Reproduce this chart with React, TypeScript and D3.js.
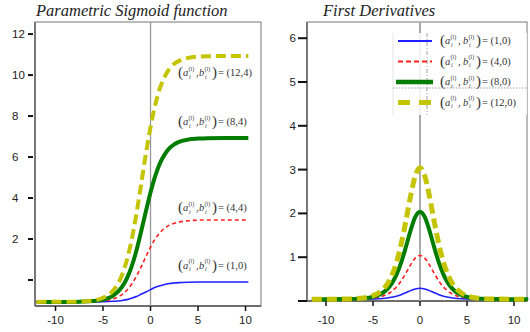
import React from 'react'
import { scaleLinear, line, curveMonotoneX } from 'd3'

// left panel: sigmoid curves
const xLeft = [-12, -8, -6, -5, -4, -3, -2.5, -2, -1.5, -1, -0.5, 0, 0.5, 1, 1.5, 2, 2.5, 3, 4, 5, 6, 8, 10.3]
const blueLeft = [-1.07, -1.07, -1.07, -1.06, -1.04, -1.0, -0.96, -0.89, -0.81, -0.7, -0.59, -0.47, -0.36, -0.28, -0.22, -0.17, -0.15, -0.13, -0.11, -0.1, -0.1, -0.1, -0.1]
const redLeft = [-1.07, -1.07, -1.05, -1.02, -0.93, -0.71, -0.5, -0.21, 0.17, 0.63, 1.13, 1.6, 2.01, 2.31, 2.53, 2.68, 2.77, 2.83, 2.89, 2.92, 2.93, 2.93, 2.93]
const greenLeft = [-1.07, -1.07, -1.03, -0.96, -0.79, -0.34, 0.07, 0.64, 1.41, 2.34, 3.33, 4.27, 5.08, 5.7, 6.13, 6.43, 6.62, 6.74, 6.86, 6.9, 6.92, 6.93, 6.93]
const yellowLeft = [-1.07, -1.06, -1.0, -0.87, -0.55, 0.24, 0.95, 1.93, 3.18, 4.63, 6.12, 7.46, 8.55, 9.37, 9.93, 10.31, 10.55, 10.69, 10.84, 10.9, 10.92, 10.93, 10.93]

// right panel: first derivatives
const xRight = [-11.5, -8, -6, -5, -4, -3.5, -3, -2.5, -2, -1.5, -1, -0.5, 0, 0.5, 1, 1.5, 2, 2.5, 3, 3.5, 4, 5, 6, 8, 11.5]
const blueRight = [0.04, 0.04, 0.042, 0.047, 0.058, 0.069, 0.085, 0.11, 0.145, 0.189, 0.237, 0.275, 0.29, 0.275, 0.237, 0.189, 0.145, 0.11, 0.085, 0.069, 0.058, 0.047, 0.042, 0.04, 0.04]
const redRight = [0.04, 0.04, 0.05, 0.067, 0.111, 0.154, 0.221, 0.32, 0.46, 0.636, 0.826, 0.98, 1.04, 0.98, 0.826, 0.636, 0.46, 0.32, 0.221, 0.154, 0.111, 0.067, 0.05, 0.04, 0.04]
const greenRight = [0.04, 0.043, 0.06, 0.093, 0.182, 0.268, 0.402, 0.601, 0.88, 1.232, 1.613, 1.92, 2.04, 1.92, 1.613, 1.232, 0.88, 0.601, 0.402, 0.268, 0.182, 0.093, 0.06, 0.043, 0.04]
const yellowRight = [0.04, 0.044, 0.07, 0.12, 0.252, 0.382, 0.582, 0.881, 1.3, 1.828, 2.399, 2.86, 3.04, 2.86, 2.399, 1.828, 1.3, 0.881, 0.582, 0.382, 0.252, 0.12, 0.07, 0.044, 0.04]

const xTicks = [-10, -5, 0, 5, 10]
const yTicksLeft = [0, 2, 4, 6, 8, 10, 12]
const yTicksRight = [0, 1, 2, 3, 4, 5, 6]
const leftLabels = ['(12,4)', '(8,4)', '(4,4)', '(1,0)']
const leftLabelY = [10.1, 7.7, 3.5, 0.7]
const rightLabels = ['(1,0)', '(4,0)', '(8,0)', '(12,0)']

const styles = [
    { color: '#1f1fff', w: 1.6, dash: null, wL: 2 },
    { color: '#ff1f1f', w: 1.6, dash: '4,3', wL: 2 },
    { color: '#007d00', w: 4, dash: null, wL: 4.5 },
    { color: '#c4c400', w: 4, dash: '10,5', wL: 5 },
]

const mathFont = '"Liberation Serif", serif'

const Ab = ({ x, y, value, gap = 0 }) => (
    <g transform={`translate(${x},${y})`} fontFamily={mathFont} fill='#333'>
        <text x={0} y={4} fontSize={15}>(</text>
        <text x={5} y={3} fontSize={10.5} fontStyle='italic'>a</text>
        <text x={10.5} y={-2.5} fontSize={6}>(l)</text>
        <text x={11} y={5.5} fontSize={6} fontStyle='italic'>i</text>
        <text x={18} y={3} fontSize={10.5}>,</text>
        <text x={21 + gap} y={3} fontSize={10.5} fontStyle='italic'>b</text>
        <text x={26.5 + gap} y={-2.5} fontSize={6}>(l)</text>
        <text x={27 + gap} y={5.5} fontSize={6} fontStyle='italic'>i</text>
        <text x={34 + gap} y={4} fontSize={15}>)</text>
        <text x={40 + gap} y={3} fontSize={10.5}>{'= ' + value}</text>
    </g>
)

const tickFont = '"Liberation Sans", Arial, sans-serif'

export default function App() {
    // left panel
    const lx = scaleLinear().domain([-12.16, 11.63]).range([35, 261])
    const ly = scaleLinear().domain([-1.27, 12.59]).range([306, 22])
    // right panel
    const rx = scaleLinear().domain([-12.02, 11.38]).range([307, 527])
    const ry = scaleLinear().domain([0, 6.37]).range([301, 22])

    const leftLine = line<number>().x((_, i) => lx(xLeft[i])).y(d => ly(d)).curve(curveMonotoneX)
    const rightLine = line<number>().x((_, i) => rx(xRight[i])).y(d => ry(d)).curve(curveMonotoneX)

    const leftSeries = [blueLeft, redLeft, greenLeft, yellowLeft]
    const rightSeries = [blueRight, redRight, greenRight, yellowRight]

    return (
        <svg width={530} height={332} style={{ position: 'absolute', left: 0, top: 0, background: '#fff' }}>
            {/* titles */}
            <text x={36} y={16} fontFamily={mathFont} fontStyle='italic' fontSize={16.5} fill='#222'>Parametric Sigmoid function</text>
            <text x={323} y={16} fontFamily={mathFont} fontStyle='italic' fontSize={16.5} fill='#222'>First Derivatives</text>

            {/* ---- left panel ---- */}
            <rect x={35} y={22} width={226} height={284} fill='none' stroke='#777' strokeWidth={1} />
            <line x1={35} x2={35} y1={22} y2={306} stroke='#555' strokeWidth={1.3} />
            <line x1={35} x2={261} y1={306} y2={306} stroke='#555' strokeWidth={1.3} />
            <line x1={lx(0)} x2={lx(0)} y1={22} y2={306} stroke='#999' strokeWidth={1.3} />
            {yTicksLeft.map(t => (
                <g key={t}>
                    <line x1={28} x2={33} y1={ly(t)} y2={ly(t)} stroke='#111' strokeWidth={2} />
                    {t !== 0 && <text x={12} y={ly(t) + 4} fontFamily={tickFont} fontSize={11.5} fill='#222'>{t}</text>}
                </g>
            ))}
            {xTicks.map(t => (
                <g key={t}>
                    <line x1={lx(t)} x2={lx(t)} y1={306} y2={311} stroke='#111' strokeWidth={1.5} />
                    <text x={lx(t)} y={324} textAnchor='middle' fontFamily={tickFont} fontSize={11.5} fill='#222'>{t}</text>
                </g>
            ))}
            {leftSeries.map((s, i) => (
                <path key={i} d={leftLine(s)} fill='none' stroke={styles[i].color} strokeWidth={styles[i].w}
                    strokeDasharray={styles[i].dash || undefined} />
            ))}
            {leftLabels.map((l, i) => <Ab key={l} x={178} y={ly(leftLabelY[i])} value={l} />)}

            {/* ---- right panel ---- */}
            <rect x={307} y={22} width={220} height={279} fill='none' stroke='#777' strokeWidth={1} />
            <line x1={307} x2={307} y1={22} y2={301} stroke='#555' strokeWidth={1.3} />
            <line x1={307} x2={527} y1={301} y2={301} stroke='#555' strokeWidth={1.3} />
            <line x1={rx(0)} x2={rx(0)} y1={22} y2={301} stroke='#aaa' strokeWidth={2} />
            {yTicksRight.map(t => (
                <g key={t}>
                    <line x1={298} x2={307} y1={ry(t)} y2={ry(t)} stroke='#111' strokeWidth={2} />
                    {t !== 0 && <text x={296} y={ry(t) + 4} textAnchor='end' fontFamily={tickFont} fontSize={11.5} fill='#222'>{t}</text>}
                </g>
            ))}
            {xTicks.map(t => (
                <g key={t}>
                    <line x1={rx(t)} x2={rx(t)} y1={301} y2={306} stroke='#111' strokeWidth={1.5} />
                    <text x={rx(t)} y={324} textAnchor='middle' fontFamily={tickFont} fontSize={11.5} fill='#222'>{t}</text>
                </g>
            ))}
            {rightSeries.map((s, i) => (
                <path key={i} d={rightLine(s)} fill='none' stroke={styles[i].color}
                    strokeWidth={i === 3 ? 5 : styles[i].w} strokeDasharray={styles[i].dash || undefined} />
            ))}

            {/* legend */}
            <rect x={393} y={33} width={134} height={82} fill='#fff' fillOpacity={0.85} />
            <line x1={393} x2={393} y1={33} y2={115} stroke='#e4e4e4' strokeWidth={1} />
            <line x1={427} x2={427} y1={33} y2={115} stroke='#888' strokeWidth={0.8} strokeDasharray='4,2,1,2' />
            <line x1={393} x2={527} y1={88} y2={88} stroke='#888' strokeWidth={0.8} strokeDasharray='1.5,1.5' />
            {rightLabels.map((l, i) => {
                const y = 41 + i * 20.5
                return (
                    <g key={l}>
                        <line x1={i === 2 ? 396 : 398} x2={i === 2 ? 433 : 432} y1={y} y2={y} stroke={styles[i].color}
                            strokeWidth={styles[i].wL} strokeDasharray={i === 1 ? '5,3' : i === 3 ? '12,9' : undefined} />
                        <Ab x={440} y={y} value={l} gap={2} />
                    </g>
                )
            })}
        </svg>
    )
}
